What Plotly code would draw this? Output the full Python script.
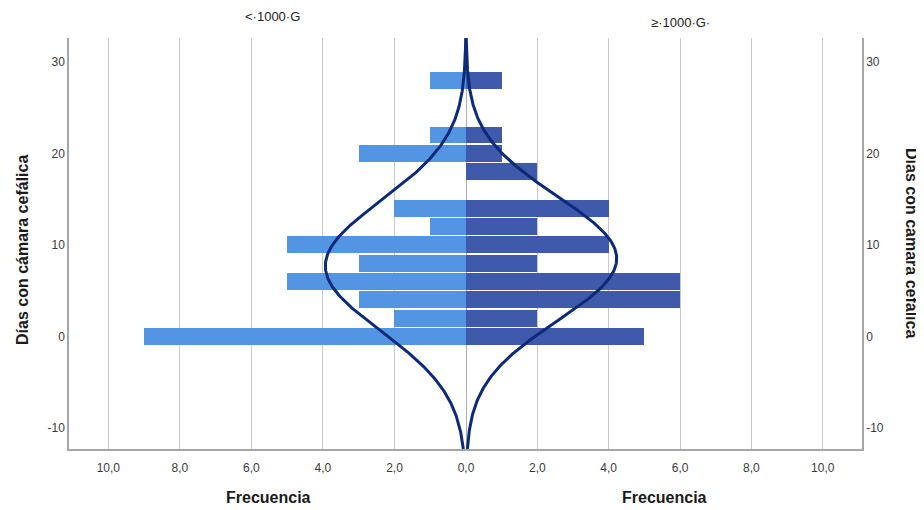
import numpy as np
import plotly.graph_objects as go

# ---- data ----
bin_centers = [0, 2, 4, 6, 8, 10, 12, 14, 16, 18, 20, 22, 24, 26, 28]
freq_lt_1000 = [9, 2, 3, 5, 3, 5, 1, 2, 0, 0, 3, 1, 0, 0, 1]
freq_ge_1000 = [5, 2, 6, 6, 2, 4, 2, 4, 0, 2, 1, 1, 0, 0, 1]
bin_width = 2

# normal-curve parameters (fitted curves shown by the chart)
mean_lt, sd_lt = 7.7, 7.1
mean_ge, sd_ge = 8.5, 6.8

x_ticks_left = [2, 4, 6, 8, 10]
x_ticks_right = [0, 2, 4, 6, 8, 10]
y_ticks = [-10, 0, 10, 20, 30]
y_tick_text = ["-10", "0", "10", "20", "30"]
label_lt = "<·1000·G"
label_ge = "≥·1000·G·"
x_title = "Frecuencia"
y_title = "Días con cámara cefálica"

Y_RANGE = [-12.3, 32.6]
X_MAX = 11.1


def normal_curve(mean, sd, n):
    ys = np.linspace(Y_RANGE[0], Y_RANGE[1], 400)
    amp = n * bin_width / (sd * np.sqrt(2 * np.pi))
    xs = amp * np.exp(-((ys - mean) ** 2) / (2 * sd ** 2))
    return xs, ys


C_LT = "#5495e3"
C_GE = "#3f5aaa"
C_CURVE = "#0c2a78"
C_GRID = "#c9c9c9"
C_AXIS = "#a6a6a6"
FONT = "Liberation Sans, Arial, sans-serif"

fig = go.Figure()
fig.add_trace(go.Bar(y=bin_centers, x=freq_lt_1000, orientation="h", width=1.84,
                     marker=dict(color=C_LT, line=dict(width=0)),
                     xaxis="x", yaxis="y", showlegend=False))
fig.add_trace(go.Bar(y=bin_centers, x=freq_ge_1000, orientation="h", width=1.84,
                     marker=dict(color=C_GE, line=dict(width=0)),
                     xaxis="x2", yaxis="y2", showlegend=False))

xl, yl = normal_curve(mean_lt, sd_lt, sum(freq_lt_1000))
xr, yr = normal_curve(mean_ge, sd_ge, sum(freq_ge_1000))
fig.add_trace(go.Scatter(x=xl, y=yl, mode="lines", line=dict(color=C_CURVE, width=3),
                         xaxis="x", yaxis="y", showlegend=False))
fig.add_trace(go.Scatter(x=xr, y=yr, mode="lines", line=dict(color=C_CURVE, width=3),
                         xaxis="x2", yaxis="y2", showlegend=False))

# page body has an 8px margin: figure is placed at (8,8) in the 924x510 window
OFF = 8
PAGE_W, PAGE_H = 924, 510
W, H = PAGE_W - OFF, PAGE_H - OFF
plot_left, plot_right, plot_top, plot_bottom = 69, 862, 38, 449  # page pixels
ml = plot_left - OFF
mt = plot_top - OFF
mr = PAGE_W - plot_right
mb = PAGE_H - plot_bottom
pw = plot_right - plot_left
ph = plot_bottom - plot_top
split = (466 - plot_left) / pw


def px_x(p):
    return (p - plot_left) / pw


def px_y(p):
    return (plot_bottom - p) / ph


def label(text, px, py, size, angle=0, color="#1a1a1a"):
    return dict(text=text, x=px_x(px), y=px_y(py), xref="paper", yref="paper",
                xanchor="center", yanchor="middle", showarrow=False, textangle=angle,
                font=dict(size=size, color=color, family=FONT))


xcommon = dict(tickformat=".1f", showgrid=True, gridcolor=C_GRID,
               gridwidth=1, zeroline=False, showline=True, linecolor=C_AXIS, linewidth=1.5,
               ticks="outside", ticklen=7, tickcolor="rgba(0,0,0,0)",
               tickfont=dict(size=12, color="#3a3a3a", family=FONT), fixedrange=True)
ycommon = dict(range=Y_RANGE, tickvals=y_ticks, ticktext=y_tick_text, showgrid=False,
               zeroline=False, showline=True, linecolor=C_AXIS, linewidth=1.5, ticks="",
               tickfont=dict(size=12, color="#3a3a3a", family=FONT))

fig.update_layout(
    width=W, height=H,
    margin=dict(l=ml, r=mr, t=mt, b=mb),
    paper_bgcolor="white", plot_bgcolor="white",
    separators=",.",
    bargap=0,
    xaxis=dict(domain=[0, split], range=[X_MAX, 0], anchor="y", tickvals=x_ticks_left, **xcommon),
    xaxis2=dict(domain=[split, 1], range=[0, X_MAX], anchor="y2", tickvals=x_ticks_right, **xcommon),
    yaxis=dict(anchor="x", side="left", **ycommon),
    yaxis2=dict(anchor="x2", side="right", matches="y", **ycommon),
    shapes=[dict(type="line", xref="x2", yref="paper", x0=0, x1=0, y0=0, y1=1,
                 line=dict(color="#7a7a7a", width=1.2), layer="below")],
    annotations=[
        label(label_lt, 272, 17, 13, color="#222"),
        label(label_ge, 680, 22, 13, color="#222"),
        label("<b>%s</b>" % x_title, 268, 497, 16),
        label("<b>%s</b>" % x_title, 664, 497, 16),
        label("<b>%s</b>" % y_title, 22, 250, 16, angle=-90),
        label("<b>%s</b>" % y_title, 911, 243, 16, angle=90),
    ],
)

fig.write_html("out.html")
